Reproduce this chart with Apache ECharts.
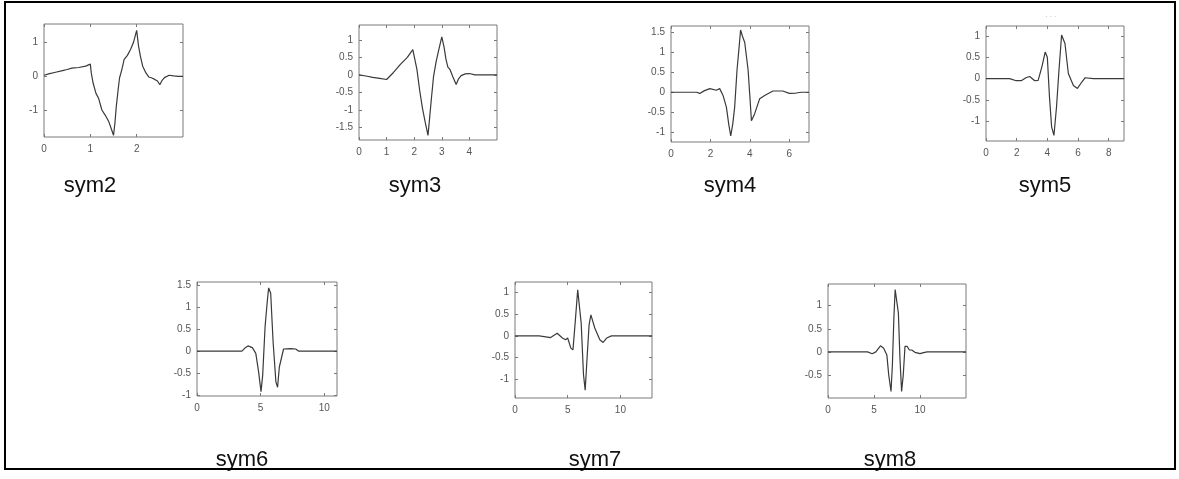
<!DOCTYPE html>
<html>
<head>
<meta charset="utf-8">
<script src="https://cdn.jsdelivr.net/npm/echarts@6/dist/echarts.min.js"></script>
<style>
  html, body { margin: 0; padding: 0; background: #fff; }
  #main { width: 1179px; height: 479px; }
</style>
</head>
<body>
<div id="main"></div>
<script>
// wavelet names
const names = ['sym2', 'sym3', 'sym4', 'sym5', 'sym6', 'sym7', 'sym8'];

// psi curves, [x, y]
const sym2 = [[0,0.03],[0.1,0.07],[0.25,0.12],[0.4,0.17],[0.5,0.2],[0.6,0.24],[0.75,0.26],[0.9,0.3],[1.0,0.36],
  [1.02,0.1],[1.06,-0.2],[1.12,-0.5],[1.18,-0.66],[1.25,-1.0],[1.32,-1.15],[1.4,-1.35],[1.45,-1.55],[1.5,-1.75],
  [1.53,-1.4],[1.56,-0.9],[1.6,-0.4],[1.63,-0.05],[1.68,0.2],[1.73,0.5],[1.8,0.62],[1.87,0.8],[1.93,1.0],[2.0,1.36],
  [2.04,0.9],[2.08,0.6],[2.13,0.3],[2.2,0.1],[2.26,-0.02],[2.33,-0.05],[2.4,-0.1],[2.45,-0.14],[2.5,-0.25],
  [2.55,-0.12],[2.6,-0.04],[2.7,0.03],[2.8,0.01],[2.9,0.0],[3,0]];
const sym3 = [[0,0],[0.25,-0.03],[0.5,-0.07],[0.75,-0.1],[1.0,-0.13],[1.25,0.07],[1.5,0.3],[1.75,0.5],[1.95,0.72],
  [2.0,0.7],[2.1,0.15],[2.2,-0.45],[2.3,-0.95],[2.4,-1.35],[2.5,-1.72],[2.55,-1.3],[2.62,-0.7],[2.7,-0.05],[2.8,0.4],
  [2.9,0.75],[3.0,1.08],[3.08,0.8],[3.15,0.45],[3.22,0.22],[3.3,0.15],[3.4,-0.05],[3.52,-0.27],[3.6,-0.12],
  [3.7,-0.02],[3.85,0.03],[4.0,0.04],[4.2,0.0],[4.5,0.0],[5,0]];
const sym4 = [[0,0],[1.3,0],[1.46,-0.03],[1.7,0.04],[1.97,0.09],[2.3,0.05],[2.47,0.09],[2.64,-0.08],[2.81,-0.37],
  [2.93,-0.8],[3.03,-1.09],[3.13,-0.8],[3.23,-0.37],[3.35,0.56],[3.45,1.1],[3.53,1.55],[3.62,1.4],[3.74,1.24],
  [3.91,0.56],[4.0,-0.1],[4.08,-0.71],[4.24,-0.54],[4.5,-0.16],[4.75,-0.08],[5.17,0.03],[5.67,0.03],[6,-0.03],
  [6.35,-0.02],[6.6,0],[7,0]];
const sym5 = [[0,0],[1.54,0],[1.97,-0.05],[2.3,-0.05],[2.6,0.02],[2.85,0.05],[3.18,-0.05],[3.4,-0.04],[3.64,0.27],
  [3.86,0.62],[4.0,0.5],[4.14,-0.43],[4.28,-1.13],[4.43,-1.33],[4.6,-0.66],[4.76,0.2],[4.93,1.02],[5.15,0.82],
  [5.37,0.12],[5.7,-0.16],[5.96,-0.23],[6.25,-0.08],[6.47,0.02],[7,0],[9,0]];
const sym6 = [[0,0],[3.53,0],[3.8,0.08],[4.0,0.12],[4.35,0.08],[4.62,-0.05],[4.84,-0.47],[5.03,-0.92],[5.16,-0.55],
  [5.35,0.56],[5.52,1.13],[5.63,1.44],[5.79,1.32],[5.98,0.21],[6.2,-0.7],[6.33,-0.82],[6.47,-0.36],[6.8,0.05],
  [7.34,0.06],[7.75,0.05],[8.0,0],[11,0]];
const sym7 = [[0,0],[2.3,0],[2.43,-0.04],[3.38,-0.04],[4.0,0.06],[4.5,-0.05],[4.8,-0.09],[5.0,-0.05],[5.3,-0.28],
  [5.5,-0.32],[5.72,0.33],[5.95,1.05],[6.1,1.09],[6.28,0.29],[6.5,-0.89],[6.66,-1.24],[6.8,-0.66],[7.03,0.25],
  [7.2,0.48],[7.35,0.44],[7.57,0.18],[8.05,-0.09],[8.36,-0.15],[8.7,-0.05],[9.15,0.0],[9.3,-0.02],[9.6,0],[13,0]];
const sym8 = [[0,0],[4.3,0],[4.8,-0.04],[5.2,0.0],[5.7,0.13],[6.05,0.08],[6.4,-0.07],[6.6,-0.5],[6.85,-0.86],
  [7.0,-0.28],[7.16,0.73],[7.3,1.35],[7.5,1.35],[7.65,0.84],[7.82,-0.14],[8.0,-0.86],[8.18,-0.5],[8.37,0.12],
  [8.6,0.12],[8.84,0.04],[9.1,0.04],[9.45,-0.01],[10.0,-0.04],[10.5,-0.01],[10.8,0],[15,0]];
const curves = [sym2, sym3, sym4, sym5, sym6, sym7, sym8];

// axis ranges and ticks
const xMax = [3, 5, 7, 9, 11, 13, 15];
const yMin = [-1.8, -1.85, -1.24, -1.46, -1.02, -1.42, -1.0];
const yMax = [1.55, 1.42, 1.65, 1.23, 1.575, 1.23, 1.47];
const xTicks = [[0,1,2], [0,1,2,3,4], [0,2,4,6], [0,2,4,6,8], [0,5,10], [0,5,10], [0,5,10]];
const yTicks = [[-1,0,1], [-1.5,-1,-0.5,0,0.5,1], [-1,-0.5,0,0.5,1,1.5], [-1,-0.5,0,0.5,1],
  [-1,-0.5,0,0.5,1,1.5], [-1,-0.5,0,0.5,1], [-0.5,0,0.5,1]];

// plot boxes [left, top, width, height] and caption centres
const boxes = [[44,24,139,113], [359,25,138,115], [671,26,138,116], [986,26,138,115],
  [197,282,140,114], [515,282,137,116], [828,284,138,114]];
const captions = [[90,186], [415,186], [730,186], [1045,186], [242,460], [595,460], [890,460]];

var myChart = echarts.init(document.getElementById('main'));

const frame = '#7a7a7a';
const tickLabel = { fontSize: 10, color: '#555', fontFamily: 'Liberation Sans' };

let grid = [], xAxis = [], yAxis = [], series = [], graphic = [];

names.forEach(function (name, i) {
  const b = boxes[i];
  grid.push({ left: b[0], top: b[1], width: b[2], height: b[3], show: true, borderColor: frame, borderWidth: 1 });
  // box ticks on all four sides, pointing inward
  ['bottom', 'top'].forEach(function (pos) {
    xAxis.push({
      gridIndex: i, type: 'value', position: pos, min: 0, max: xMax[i],
      axisLine: { show: false, onZero: false },
      axisTick: { inside: true, length: 3, lineStyle: { color: frame }, customValues: xTicks[i] },
      axisLabel: Object.assign({ show: pos === 'bottom', margin: 7, customValues: xTicks[i] }, tickLabel),
      splitLine: { show: false }
    });
  });
  ['left', 'right'].forEach(function (pos) {
    yAxis.push({
      gridIndex: i, type: 'value', position: pos, min: yMin[i], max: yMax[i],
      axisLine: { show: false, onZero: false },
      axisTick: { inside: true, length: 3, lineStyle: { color: frame }, customValues: yTicks[i] },
      axisLabel: Object.assign({ show: pos === 'left', margin: 6, customValues: yTicks[i] }, tickLabel),
      splitLine: { show: false }
    });
  });
  series.push({
    type: 'line', xAxisIndex: i * 2, yAxisIndex: i * 2, data: curves[i],
    showSymbol: false, lineStyle: { color: '#3a3a3a', width: 1.2 }
  });
  graphic.push({
    type: 'text', x: captions[i][0], y: captions[i][1],
    style: { text: name, fontSize: 22, fontFamily: 'Liberation Sans', fill: '#111', align: 'center', verticalAlign: 'middle' }
  });
});

// outer border and the faint mark above sym5
graphic.push({
  type: 'rect', shape: { x: 5, y: 2, width: 1170, height: 467 },
  style: { fill: 'none', stroke: '#000', lineWidth: 2 }
});
graphic.push({
  type: 'text', x: 1051, y: 17,
  style: { text: '· · ·', fontSize: 7, fill: '#bbb', align: 'center', verticalAlign: 'middle' }
});

myChart.setOption({ animation: false, grid, xAxis, yAxis, series, graphic });
</script>
</body>
</html>
